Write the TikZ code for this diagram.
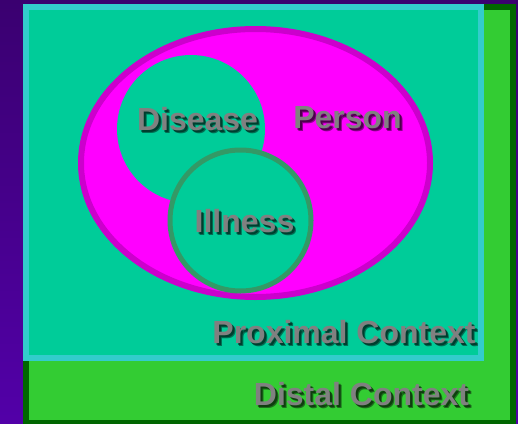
\documentclass[tikz,border=0pt]{standalone}
\usepackage{fontspec}
\setmainfont{Liberation Sans}
\usetikzlibrary{positioning}

\definecolor{bgtop}{HTML}{3A0070}
\definecolor{bgbot}{HTML}{5200A8}
\definecolor{distalfill}{HTML}{33CC33}
\definecolor{distalline}{HTML}{006600}
\definecolor{proxfill}{HTML}{00CC99}
\definecolor{proxline}{HTML}{33CCCC}
\definecolor{personfill}{HTML}{FF00FF}
\definecolor{personline}{HTML}{CC00CC}
\definecolor{illline}{HTML}{339966}
\definecolor{lblgray}{HTML}{808080}

\begin{document}
\begin{tikzpicture}[x=1pt,y=-1pt,
	lbl/.style={anchor=base,inner sep=0pt,font=\fontsize{32}{38}\selectfont\bfseries,text=lblgray},
	lblshadow/.style={lbl,text=black,opacity=0.45}]
	\useasboundingbox (0,0) rectangle (518,423);
	\clip (0,0) rectangle (518,423);
	\shade[top color=bgtop,bottom color=bgbot] (0,0) rectangle (518,423);
	% distal and proximal boxes
	\draw[line width=6pt,distalline,fill=distalfill] (26,7) rectangle (513,423);
	\draw[line width=6pt,proxline,fill=proxfill] (26,7) rectangle (481,358);
	% person, disease, illness
	\draw[line width=6pt,personline,fill=personfill] (255.5,163) ellipse [x radius=174.5,y radius=134];
	\fill[proxfill] (191,129) circle (74);
	\draw[line width=5pt,illline,fill=proxfill] (240.5,220.5) circle (70.5);
	% labels with shadow
	\foreach \name/\x/\y/\txt in {disease/197.5/130/Disease, person/347.5/128/Person,
			illness/244.5/232/Illness, proximal/344/343/Proximal Context, distal/361.5/405/Distal Context} {
			\node[lblshadow] at (\x+3,\y+3) {\txt};
			\node[lblshadow] at (\x+2,\y+2) {\txt};
			\node[lbl] (\name) at (\x,\y) {\txt};
		}
\end{tikzpicture}
\end{document}
